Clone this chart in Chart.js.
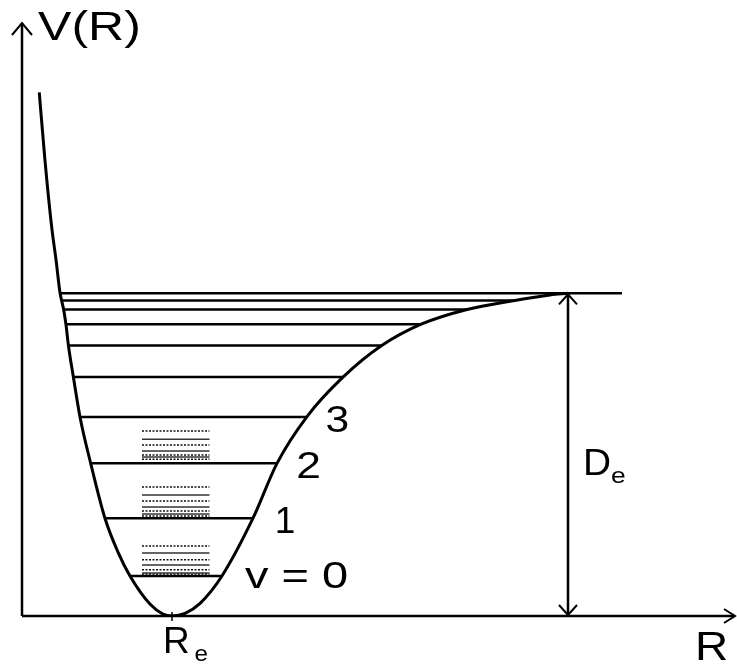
<!DOCTYPE html>
<html lang="en">
<head>
    <meta charset="UTF-8">
    <title>Morse potential V(R)</title>
    <script src="https://cdn.jsdelivr.net/npm/chart.js"></script>
    <style>
        body {
            margin: 0;
            background-color: #ffffff;
        }
        canvas {
            display: block;
        }
    </style>
</head>
<body>
    <canvas id="chartMorse" width="737" height="664"></canvas>

    <script>
        // Potential curve (R in units of Re, V in units of De)
        const curveR = [0.115, 0.153, 0.198, 0.227, 0.253, 0.277, 0.293, 0.309, 0.342, 0.387, 0.458, 0.553,
                        0.640, 0.720, 0.853, 0.940, 1.000, 1.087, 1.187, 1.333, 1.540, 1.700, 1.900, 2.140,
                        2.398, 2.665, 2.967, 3.273, 3.520, 3.640];
        const curveV = [1.623, 1.413, 1.205, 1.103, 1.003, 0.951, 0.904, 0.840, 0.742, 0.616, 0.473, 0.303,
                        0.198, 0.124, 0.037, 0.006, 0.000, 0.008, 0.039, 0.124, 0.303, 0.473, 0.618, 0.740,
                        0.838, 0.905, 0.950, 0.977, 0.995, 1.000];

        // Vibrational levels: energy and the ends of each line
        const levelV     = [0.124, 0.303, 0.473, 0.617, 0.741, 0.838, 0.904, 0.950, 0.978, 1.000];
        const levelLeft  = [0.720, 0.553, 0.458, 0.387, 0.342, 0.309, 0.293, 0.277, 0.267, 0.253];
        const levelRight = [1.333, 1.540, 1.700, 1.900, 2.140, 2.398, 2.665, 2.967, 3.273, 4.000];

        // Rotational sub-levels above v = 0, 1, 2
        const rotV0 = [0.217, 0.195, 0.174, 0.158, 0.143, 0.133, 0.130];
        const rotV1 = [0.400, 0.375, 0.356, 0.338, 0.325, 0.316, 0.310];
        const rotV2 = [0.573, 0.548, 0.530, 0.511, 0.499, 0.493, 0.486];
        const rotLeft = 0.80;
        const rotRight = 1.25;

        // Re and dissociation energy arrow position
        const Re = 1.0;
        const De = 1.0;
        const deArrowR = 3.64;

        const fontFamily = '"Liberation Sans", Arial, sans-serif';

        // Build datasets
        const datasets = [];

        datasets.push({
            label: 'V(R)',
            data: curveR.map((r, i) => ({ x: r, y: curveV[i] })),
            showLine: true,
            borderColor: '#000',
            borderWidth: 3,
            pointRadius: 0,
            cubicInterpolationMode: 'monotone'
        });

        levelV.forEach((v, i) => {
            datasets.push({
                label: 'level ' + i,
                data: [{ x: levelLeft[i], y: v }, { x: levelRight[i], y: v }],
                showLine: true,
                borderColor: '#000',
                borderWidth: 2.5,
                pointRadius: 0
            });
        });

        [rotV0, rotV1, rotV2].forEach((group, g) => {
            group.forEach((v, j) => {
                datasets.push({
                    label: 'rot ' + g + '-' + j,
                    data: [{ x: rotLeft, y: v }, { x: rotRight, y: v }],
                    showLine: true,
                    borderColor: j % 2 === 0 ? '#111' : '#333',
                    borderWidth: 1.5,
                    borderDash: j % 2 === 0 ? [2, 1.5] : [],
                    pointRadius: 0
                });
            });
        });

        function arrowHead(ctx, tipX, tipY, dirX, dirY, len, half) {
            // dir is unit vector pointing toward the tip
            const bx = tipX - dirX * len;
            const by = tipY - dirY * len;
            ctx.beginPath();
            ctx.moveTo(bx - dirY * half, by + dirX * half);
            ctx.lineTo(tipX, tipY);
            ctx.lineTo(bx + dirY * half, by - dirX * half);
            ctx.stroke();
        }

        // sx = horizontal stretch of the lettering in the picture
        const labels = [
            { text: 'V(R)', x: 0.107, y: 1.785, size: 40, sx: 1.25, align: 'left' },
            { text: '3', x: 2.103, y: 0.570, size: 37, sx: 1.15, align: 'center' },
            { text: '2', x: 1.910, y: 0.428, size: 37, sx: 1.2, align: 'center' },
            { text: '1', x: 1.753, y: 0.257, size: 37, sx: 1.0, align: 'center' },
            { text: 'v = 0', x: 1.830, y: 0.087, size: 37, sx: 1.27, align: 'center' },
            { text: 'D', x: 3.740, y: 0.437, size: 37, sx: 1.05, align: 'left' },
            { text: 'e', x: 3.927, y: 0.412, size: 22, sx: 1.2, align: 'left' },
            { text: 'R', x: 0.940, y: -0.115, size: 37, sx: 1.0, align: 'left' },
            { text: 'e', x: 1.150, y: -0.139, size: 22, sx: 1.1, align: 'left' },
            { text: 'R', x: 4.487, y: -0.136, size: 40, sx: 1.15, align: 'left' }
        ];

        const diagramPlugin = {
            id: 'diagram',
            beforeDatasetsDraw(chart) {
                const { ctx, scales: { x, y } } = chart;
                const x0 = x.getPixelForValue(0);
                const y0 = y.getPixelForValue(0);
                const xEnd = x.getPixelForValue(x.max);
                const yEnd = y.getPixelForValue(y.max);

                ctx.save();
                ctx.strokeStyle = '#000';
                ctx.lineWidth = 2.5;

                // axes
                ctx.beginPath();
                ctx.moveTo(x0, y0);
                ctx.lineTo(xEnd, y0);
                ctx.moveTo(x0, y0);
                ctx.lineTo(x0, yEnd);
                ctx.stroke();
                ctx.lineWidth = 2;
                arrowHead(ctx, xEnd, y0, 1, 0, 11, 7);
                arrowHead(ctx, x0, yEnd, 0, -1, 12, 10);

                // Re tick
                const rx = x.getPixelForValue(Re);
                ctx.lineWidth = 1.5;
                ctx.beginPath();
                ctx.moveTo(rx, y0 - 4);
                ctx.lineTo(rx, y0 + 5);
                ctx.stroke();

                // De double arrow
                const ax = x.getPixelForValue(deArrowR);
                const aTop = y.getPixelForValue(De);
                ctx.lineWidth = 2.5;
                ctx.beginPath();
                ctx.moveTo(ax, aTop);
                ctx.lineTo(ax, y0);
                ctx.stroke();
                ctx.lineWidth = 2;
                arrowHead(ctx, ax, aTop + 1, 0, -1, 10, 9);
                arrowHead(ctx, ax, y0 - 1, 0, 1, 10, 9);
                ctx.restore();
            },
            afterDatasetsDraw(chart) {
                const { ctx, scales: { x, y } } = chart;
                ctx.fillStyle = '#000';
                labels.forEach(l => {
                    ctx.save();
                    ctx.font = l.size + 'px ' + fontFamily;
                    ctx.textAlign = l.align;
                    ctx.textBaseline = 'alphabetic';
                    ctx.translate(x.getPixelForValue(l.x), y.getPixelForValue(l.y));
                    ctx.scale(l.sx, 1);
                    ctx.fillText(l.text, 0, 0);
                    ctx.restore();
                });
            }
        };

        const ctxMorse = document.getElementById('chartMorse').getContext('2d');
        const chartMorse = new Chart(ctxMorse, {
            type: 'scatter',
            data: { datasets: datasets },
            options: {
                responsive: false,
                animation: false,
                events: [],
                layout: {
                    padding: { left: 22, right: 2, top: 23, bottom: 48 }
                },
                plugins: {
                    legend: { display: false },
                    tooltip: { enabled: false }
                },
                scales: {
                    x: { type: 'linear', min: 0, max: 4.7533, display: false },
                    y: { type: 'linear', min: 0, max: 1.8376, display: false }
                }
            },
            plugins: [diagramPlugin]
        });
    </script>
</body>
</html>
